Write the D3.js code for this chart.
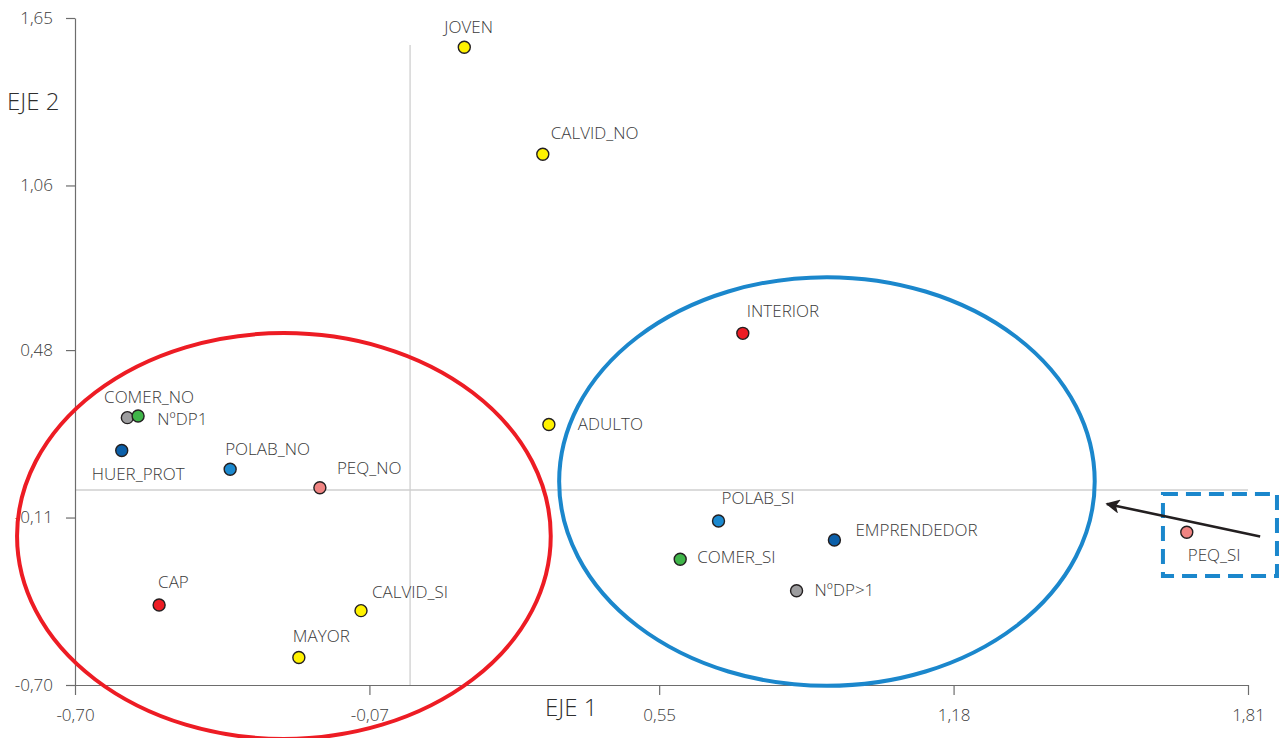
<!DOCTYPE html>
<html>
<head>
<meta charset="utf-8">
<script src="https://cdn.jsdelivr.net/npm/d3@7"></script>
<style>
  html, body { margin: 0; padding: 0; background: #fff; }
  svg { display: block; font-family: "Open Sans", sans-serif; }
</style>
</head>
<body>
<svg id="chart" width="1287" height="738"></svg>
<script>
// Category labels and their coordinates on the two factorial axes
const categories = ["JOVEN", "CALVID_NO", "INTERIOR", "ADULTO", "COMER_NO", "NºDP1",
  "HUER_PROT", "POLAB_NO", "PEQ_NO", "CAP", "CALVID_SI", "MAYOR",
  "POLAB_SI", "EMPRENDEDOR", "COMER_SI", "NºDP>1", "PEQ_SI"];
const eje1 = [0.133, 0.301, 0.729, 0.314, -0.565, -0.588,
  -0.600, -0.368, -0.176, -0.520, -0.088, -0.221,
  0.677, 0.925, 0.595, 0.844, 1.679];
const eje2 = [1.547, 1.170, 0.539, 0.218, 0.248, 0.242,
  0.126, 0.060, -0.005, -0.418, -0.438, -0.603,
  -0.122, -0.189, -0.257, -0.368, -0.162];
// Variable group of each category (drives the fill colour)
const groups = ["edad", "calvid", "ubic", "edad", "comer", "ndp",
  "huer", "polab", "peq", "ubic", "calvid", "edad",
  "polab", "huer", "comer", "ndp", "peq"];

// Axis ticks
const xTicks = [-0.70, -0.07, 0.55, 1.18, 1.81];
const yTicks = [-0.70, -0.11, 0.48, 1.06, 1.65];

// Origin reference lines
const originX = 0.017;
const originY = -0.013;
const originTopY = 1.555;

// Cluster ellipses: centre and radii in axis units
const clusterNames = ["izquierda", "derecha"];
const clusterCx = [-0.253, 0.909];
const clusterCy = [-0.175, 0.017];
const clusterRx = [0.571, 0.573];
const clusterRy = [0.715, 0.720];

// Highlight box around PEQ_SI and the arrow pointing back to the cluster
const boxX = [1.628, 1.872];
const boxY = [-0.027, -0.316];
const arrowFrom = [1.836, -0.177];
const arrowTo = [1.508, -0.062];

const colorOf = {
  edad: "#fff200", calvid: "#fff200", ubic: "#ed1c24", comer: "#3fb549",
  ndp: "#9d9d9f", huer: "#0b5fa9", polab: "#1b89cf", peq: "#f08482"
};
// Label placement relative to each point (px)
const labelOffset = {
  "JOVEN": [-20, -14], "CALVID_NO": [8, -15], "INTERIOR": [4, -16],
  "ADULTO": [29, 6], "COMER_NO": [-34, -13], "NºDP1": [30, 7],
  "HUER_PROT": [-30, 29], "POLAB_NO": [-5, -14], "PEQ_NO": [17, -14],
  "CAP": [-1, -17], "CALVID_SI": [11, -13], "MAYOR": [-6, -15],
  "POLAB_SI": [3, -17], "EMPRENDEDOR": [21, -4], "COMER_SI": [17, 4],
  "NºDP>1": [18, 5], "PEQ_SI": [1, 29]
};

const svg = d3.select("#chart");
const x = d3.scaleLinear().domain([-0.70, 1.81]).range([75, 1248]);
const y = d3.scaleLinear().domain([-0.70, 1.65]).range([685, 18]);

const loc = d3.formatLocale({ decimal: ",", thousands: ".", grouping: [3], currency: ["", "€"], minus: "-" });
const fmt = loc.format(".2f");

// Origin lines
svg.append("line")
  .attr("x1", x(originX)).attr("x2", x(originX))
  .attr("y1", y(originTopY)).attr("y2", y(-0.70))
  .attr("stroke", "#cfcfcf").attr("stroke-width", 1.3);
svg.append("line")
  .attr("x1", x(-0.70)).attr("x2", x(1.81))
  .attr("y1", y(originY)).attr("y2", y(originY))
  .attr("stroke", "#cfcfcf").attr("stroke-width", 1.3);

// Axes
const xAxis = svg.append("g")
  .attr("transform", `translate(0,${y(-0.70)})`)
  .call(d3.axisBottom(x).tickValues(xTicks).tickFormat(fmt).tickSize(10).tickSizeOuter(0).tickPadding(14));
const yAxis = svg.append("g")
  .attr("transform", `translate(${x(-0.70)},0)`)
  .call(d3.axisLeft(y).tickValues(yTicks).tickFormat(fmt).tickSize(9).tickSizeOuter(0).tickPadding(13));
[xAxis, yAxis].forEach(g => {
  g.select(".domain").attr("stroke", "#6d6d6d").attr("stroke-width", 1.2);
  g.selectAll(".tick line").attr("stroke", "#6d6d6d").attr("stroke-width", 1.2);
  g.selectAll(".tick text").attr("fill", "#3a3a3a")
    .style("font-size", "17px").style("font-weight", 300)
    .style("font-family", "'Open Sans', sans-serif");
});

// Axis titles
svg.append("text").attr("x", 7).attr("y", 110).text("EJE 2")
  .attr("fill", "#2e2e2e").style("font-size", "24px").style("font-weight", 300);
svg.append("text").attr("x", 545).attr("y", 716).text("EJE 1")
  .attr("fill", "#2e2e2e").style("font-size", "24px").style("font-weight", 300);

// Cluster ellipses
const clusterColor = ["#ed1c24", "#1b87cc"];
svg.selectAll("ellipse.cluster").data(clusterNames).enter().append("ellipse")
  .attr("class", "cluster")
  .attr("cx", (d, i) => x(clusterCx[i]))
  .attr("cy", (d, i) => y(clusterCy[i]))
  .attr("rx", (d, i) => x(clusterCx[i] + clusterRx[i]) - x(clusterCx[i]))
  .attr("ry", (d, i) => y(clusterCy[i] - clusterRy[i]) - y(clusterCy[i]))
  .attr("fill", "none")
  .attr("stroke", (d, i) => clusterColor[i])
  .attr("stroke-width", 4);

// Dashed highlight box
svg.append("rect")
  .attr("x", x(boxX[0])).attr("y", y(boxY[0]))
  .attr("width", x(boxX[1]) - x(boxX[0]))
  .attr("height", y(boxY[1]) - y(boxY[0]))
  .attr("fill", "none").attr("stroke", "#1b87cc")
  .attr("stroke-width", 4).attr("stroke-dasharray", "15,8");

// Arrow
svg.append("defs").append("marker")
  .attr("id", "head").attr("viewBox", "0 0 10 10")
  .attr("refX", 9).attr("refY", 5)
  .attr("markerWidth", 6).attr("markerHeight", 5.5)
  .attr("markerUnits", "strokeWidth").attr("orient", "auto")
  .append("path").attr("d", "M0,0 L10,5 L0,10 L2.5,5 Z").attr("fill", "#231f20");
svg.append("line")
  .attr("x1", x(arrowFrom[0])).attr("y1", y(arrowFrom[1]))
  .attr("x2", x(arrowTo[0])).attr("y2", y(arrowTo[1]))
  .attr("stroke", "#231f20").attr("stroke-width", 2.6)
  .attr("marker-end", "url(#head)");

// Points and labels
const pts = categories.map((c, i) => ({ name: c, x: eje1[i], y: eje2[i], g: groups[i] }));
svg.selectAll("text.lbl").data(pts).enter().append("text")
  .attr("class", "lbl")
  .attr("x", d => x(d.x) + labelOffset[d.name][0])
  .attr("y", d => y(d.y) + labelOffset[d.name][1])
  .text(d => d.name)
  .attr("fill", "#3a3a3a")
  .style("font-size", "17px").style("font-weight", 300);
// Draw the NºDP1 point before COMER_NO so the green one sits on top
const drawOrder = pts.slice().sort((a, b) => (a.name === "NºDP1" ? -1 : 0) - (b.name === "NºDP1" ? -1 : 0));
svg.selectAll("circle.pt").data(drawOrder).enter().append("circle")
  .attr("class", "pt")
  .attr("cx", d => x(d.x)).attr("cy", d => y(d.y)).attr("r", 6)
  .attr("fill", d => colorOf[d.g])
  .attr("stroke", "#231f20").attr("stroke-width", 1.4);
</script>
</body>
</html>
